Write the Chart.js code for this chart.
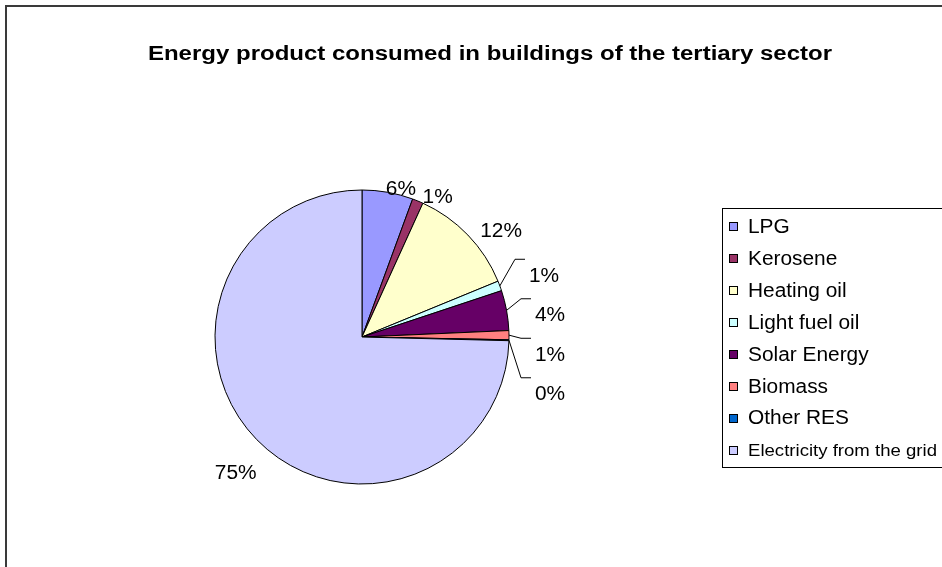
<!DOCTYPE html>
<html>
<head>
<meta charset="utf-8">
<script src="https://cdn.jsdelivr.net/npm/chart.js@4/dist/chart.umd.min.js"></script>
<style>
  html, body { margin: 0; padding: 0; background: #fff; }
  #wrap { width: 942px; height: 567px; position: relative; }
</style>
</head>
<body>
<div id="wrap"><canvas id="c" width="942" height="567"></canvas></div>
<script>
// ---- data ----
const chartTitle = 'Energy product consumed in buildings of the tertiary sector';
const categories = ['LPG', 'Kerosene', 'Heating oil', 'Light fuel oil', 'Solar Energy', 'Biomass', 'Other RES', 'Electricity from the grid'];
const shares = [5.6, 1.2, 12.0, 1.1, 4.4, 1.0, 0.1, 74.6];
const sliceColors = ['#9999FF', '#993366', '#FFFFCC', '#CCFFFF', '#660066', '#FF8080', '#0066CC', '#CCCCFF'];

// ---- style ----
const FONT_FAMILY = '"Liberation Sans", Arial, Helvetica, sans-serif';
const SX = 1.07;          // slight horizontal stretch of the original text rendering
const TITLE_SX = 1.2;
const TEXT_PX = 19.5;

function drawText(ctx, text, x, y, font, align, sx) {
  ctx.save();
  ctx.font = font;
  ctx.textAlign = align;
  ctx.textBaseline = 'middle';
  ctx.fillStyle = '#000';
  ctx.translate(x, y);
  ctx.scale(sx, 1);
  ctx.fillText(text, 0, 0);
  ctx.restore();
}
function textWidth(ctx, text, font, sx) {
  ctx.save(); ctx.font = font; const w = ctx.measureText(text).width * sx; ctx.restore(); return w;
}

const decorPlugin = {
  id: 'decor',
  beforeDraw(chart) {
    const ctx = chart.ctx;
    ctx.save();
    ctx.fillStyle = '#fff';
    ctx.fillRect(0, 0, chart.width, chart.height);
    ctx.restore();
  },
  afterDraw(chart) {
    const ctx = chart.ctx;
    const W = chart.width;
    // outer frame (left and top edges visible)
    ctx.save();
    ctx.strokeStyle = '#3a3a3a';
    ctx.lineWidth = 2;
    ctx.beginPath();
    ctx.moveTo(6, chart.height + 2);
    ctx.lineTo(6, 6);
    ctx.lineTo(W + 2, 6);
    ctx.stroke();
    ctx.restore();

    // title
    drawText(ctx, chartTitle, 490, 54, 'bold 20px ' + FONT_FAMILY, 'center', TITLE_SX);

    // data labels
    const meta = chart.getDatasetMeta(0);
    const ds = chart.data.datasets[0].data;
    const total = ds.reduce((a, b) => a + b, 0);
    const LFONT = TEXT_PX + 'px ' + FONT_FAMILY;
    const items = meta.data.map((arc, i) => {
      const mid = (arc.startAngle + arc.endAngle) / 2;
      const c = Math.cos(mid), s = Math.sin(mid);
      const txt = Math.round(ds[i] / total * 100) + '%';
      const w = textWidth(ctx, txt, LFONT, SX);
      const h = 22;
      const ext = Math.abs(c) * w / 2 + Math.abs(s) * h / 2;
      const R = arc.outerRadius + 4 + ext;
      return { i, arc, c, s, txt, w, nx: arc.x + R * c, ny: arc.y + R * s, leader: false };
    });
    const n = items.length;
    function collide(a, b) {
      const ox = Math.abs(a.nx - b.nx) < (a.w + b.w) / 2;
      const oy = Math.abs(a.ny - b.ny) < 32;
      return ox && oy;
    }
    for (let k = 0; k < n; k++) {
      const a = items[k], b = items[(k + 1) % n];
      if (collide(a, b)) { a.leader = true; b.leader = true; }
    }
    let prevY = -Infinity;
    let firstLeader = true;
    ctx.save();
    ctx.strokeStyle = '#000';
    ctx.lineWidth = 1;
    items.forEach(it => {
      const arc = it.arc;
      if (it.leader) {
        const y = Math.max(it.ny - 2, prevY + 39.5);
        prevY = y;
        const left = arc.x + arc.outerRadius + (firstLeader ? 20 : 26);
        firstLeader = false;
        const sx0 = arc.x + arc.outerRadius * it.c, sy0 = arc.y + arc.outerRadius * it.s;
        const ex = left - 4, ey = y - 17;
        ctx.beginPath();
        ctx.moveTo(sx0, sy0);
        ctx.lineTo(ex - 10, ey);
        ctx.lineTo(ex, ey);
        ctx.stroke();
        drawText(ctx, it.txt, left, y, LFONT, 'left', SX);
      } else {
        const dx = it.c > 0 ? 8 + 12 * Math.abs(it.c * it.s) : -2;
        drawText(ctx, it.txt, it.nx + dx, it.ny + 15, LFONT, 'center', SX);
      }
    });
    ctx.restore();

    // legend
    const lx = 722, ly = 208, lh = 259;
    ctx.save();
    ctx.strokeStyle = '#000';
    ctx.lineWidth = 1;
    ctx.strokeRect(lx + 0.5, ly + 0.5, W - lx + 10, lh);
    const step = 31.9;
    const first = 226.7;
    chart.data.labels.forEach((lab, i) => {
      const cy = first + i * step;
      ctx.fillStyle = sliceColors[i];
      ctx.fillRect(729, Math.round(cy - 4.5), 9, 9);
      ctx.strokeRect(729.5, Math.round(cy - 4.5) + 0.5, 8, 8);
      let size = TEXT_PX;
      const avail = W - 748 - 5;
      const tw = textWidth(ctx, lab, size + 'px ' + FONT_FAMILY, SX);
      let sx = SX;
      if (tw > avail) { size = size * 0.86; sx = avail / textWidth(ctx, lab, size + 'px ' + FONT_FAMILY, 1); }
      drawText(ctx, lab, 748, cy + 1, size + 'px ' + FONT_FAMILY, 'left', sx);
    });
    ctx.restore();
  }
};

new Chart(document.getElementById('c'), {
  type: 'pie',
  data: {
    labels: categories,
    datasets: [{
      data: shares,
      backgroundColor: sliceColors,
      borderColor: '#000',
      borderWidth: 1,
      radius: 147
    }]
  },
  options: {
    responsive: false,
    animation: false,
    devicePixelRatio: 1,
    layout: { padding: { left: 100, right: 318, top: 150, bottom: 43 } },
    plugins: {
      legend: { display: false },
      title: { display: false },
      tooltip: { enabled: false }
    }
  },
  plugins: [decorPlugin]
});
</script>
</body>
</html>
